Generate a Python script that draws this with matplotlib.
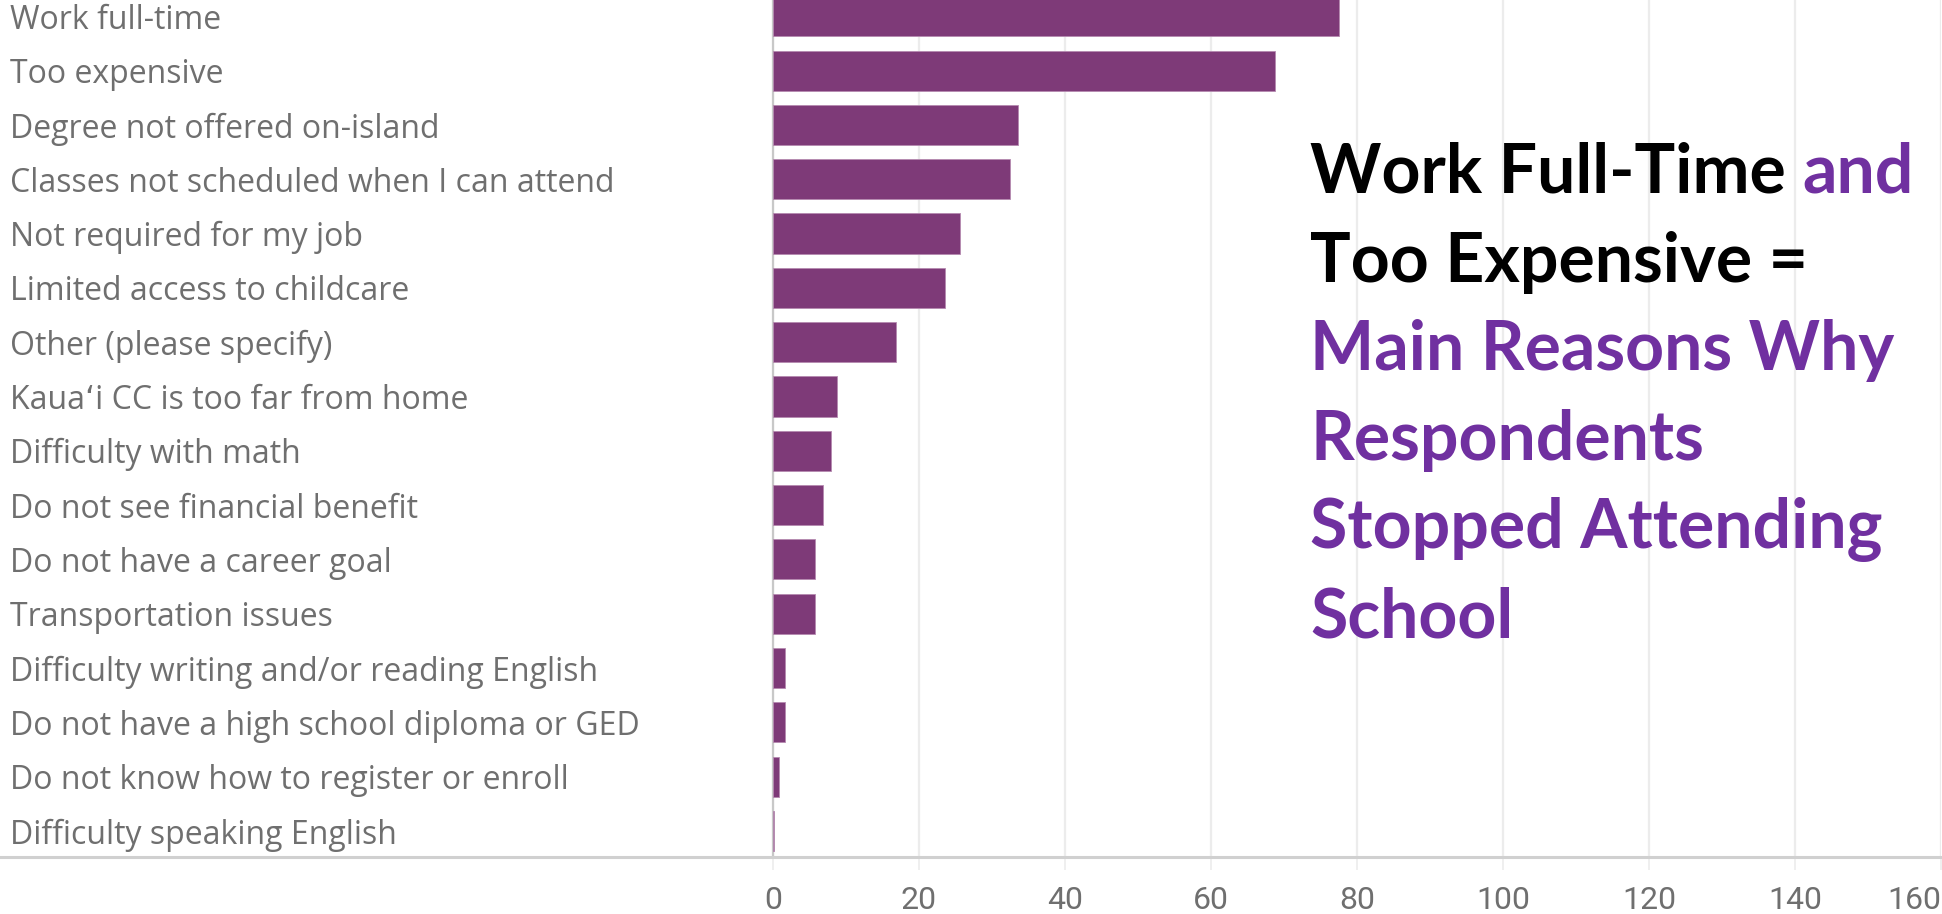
import numpy as np
import matplotlib
matplotlib.use('Agg')
import matplotlib.pyplot as plt
from matplotlib import transforms
from matplotlib.lines import Line2D

reasons = [
    'Work full-time',
    'Too expensive',
    'Degree not offered on-island',
    'Classes not scheduled when I can attend',
    'Not required for my job',
    'Limited access to childcare',
    'Other (please specify)',
    'Kaua\u02bbi CC is too far from home',
    'Difficulty with math',
    'Do not see financial benefit',
    'Do not have a career goal',
    'Transportation issues',
    'Difficulty writing and/or reading English',
    'Do not have a high school diploma or GED',
    'Do not know how to register or enroll',
    'Difficulty speaking English',
]
counts = [77.6, 68.8, 33.6, 32.5, 25.6, 23.6, 16.9, 8.7, 7.9, 6.8, 5.7, 5.7,
          1.6, 1.6, 0.8, 0.1]
xticks = [0, 20, 40, 60, 80, 100, 120, 140, 160]

barColor = '#7E3A78'
labelGrey = '#6f6f6f'
purple = '#7030A0'
labelFont = ['Open Sans', 'DejaVu Sans']

fig = plt.figure(figsize=(19.42, 9.14), dpi=100)
ax = fig.add_axes([773 / 1942, 57 / 914, 1168 / 1942, 857 / 914])

y = np.arange(len(reasons))
ax.barh(y, counts, height=0.74, color=barColor, edgecolor='#b58ab0',
        linewidth=0.6, zorder=3)

ax.set_xlim(0, 160)
ax.set_ylim(15.48, -0.30)
ax.set_xticks(xticks)
ax.set_xticklabels([str(t) for t in xticks], fontsize=23,
                   color=labelGrey, family='Roboto')
ax.get_xticklabels()[-1].set_ha('right')
ax.set_yticks([])
ax.tick_params(axis='x', length=9, color='#ececec', width=1.2, pad=12)
ax.grid(axis='x', color='#ececec', linewidth=1.6, zorder=0)
for s in ['top', 'right', 'bottom']:
    ax.spines[s].set_visible(False)
ax.spines['left'].set_color('#c8c8c8')
ax.spines['left'].set_linewidth(1.6)

# row labels, left aligned at the figure edge
trans = transforms.blended_transform_factory(fig.transFigure, ax.transData)
for i, r in enumerate(reasons):
    ax.text(10 / 1942, i, r, transform=trans, ha='left',
            va='center_baseline', fontsize=23, color=labelGrey,
            family=labelFont, clip_on=False)

# axis line across the full width
fig.add_artist(Line2D([0, 1], [57 / 914, 57 / 914], transform=fig.transFigure,
                      color='#d0d0d0', linewidth=2.2))

# callout text
tx = 1310 / 1942
lines = [
    [('Work Full-Time ', 'black'), ('and', purple)],
    [('Too Expensive =', 'black')],
    [('Main Reasons Why', purple)],
    [('Respondents', purple)],
    [('Stopped Attending', purple)],
    [('School', purple)],
]
fig.canvas.draw()
renderer = fig.canvas.get_renderer()
for k, parts in enumerate(lines):
    yy = 1 - (173 + k * 89) / 914
    x = tx
    for txt, col in parts:
        t = fig.text(x, yy, txt, ha='left', va='center', fontsize=49,
                     fontweight='bold', color=col, family='Lato')
        bb = t.get_window_extent(renderer=renderer)
        x += bb.width / fig.bbox.width

fig.savefig('out.png', dpi=100)
